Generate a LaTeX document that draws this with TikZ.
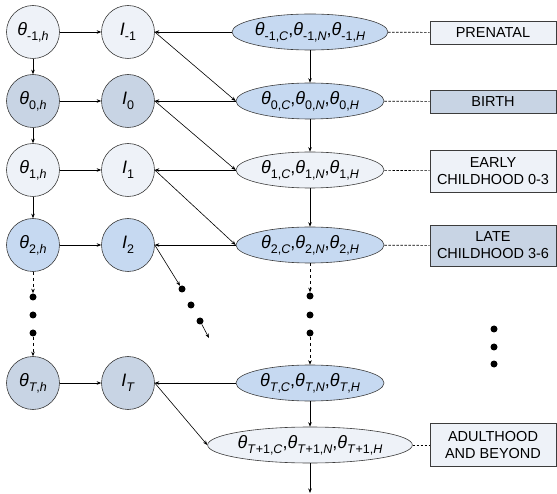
\documentclass[tikz,border=0pt]{standalone}
\usepackage{fontspec}
\setmainfont{Liberation Sans}
\usetikzlibrary{arrows.meta}
\usetikzlibrary{shapes.geometric}
\definecolor{pale}{HTML}{EEF2F8}
\definecolor{sky}{HTML}{C6D9F1}
\definecolor{slate}{HTML}{C8D4E4}
\definecolor{rim}{HTML}{3C3C3C}
\def\subtx#1{\raisebox{-0.28em}{\fontsize{12.5}{13}\selectfont #1}}
\def\thet#1{\textit{θ}\subtx{#1}}
\def\inv#1{\textit{I}\subtx{#1}}

\begin{document}
\begin{tikzpicture}[->,>={Stealth[length=4.5pt,width=3.5pt]},semithick,x=1pt,y=-1pt,
		every node/.style={font=\fontsize{18}{20}\selectfont}]
		\tikzstyle{skill}=[circle,draw=rim,minimum size=53pt,inner sep=0pt]
		\tikzstyle{stage}=[ellipse,draw=rim,minimum width=148pt,minimum height=36pt,inner sep=0pt]
		\tikzstyle{period}=[rectangle,draw=rim,minimum width=126pt,minimum height=23pt,
			align=center,inner sep=1pt,font=\fontsize{14.5}{17}\selectfont]
		\tikzstyle{dot}=[circle,fill=black,minimum size=7pt,inner sep=0pt]
		\tikzstyle{link}=[-,dash pattern=on 2.5pt off 1.5pt]
		
		\useasboundingbox (0,0) rectangle (557,494);
		
		% skills of the household
		\node[skill,fill=pale]  (Hm1) at (33,32)  {\thet{-1,\textit{h}}};
		\node[skill,fill=slate] (H0)  at (33,101) {\thet{0,\textit{h}}};
		\node[skill,fill=pale]  (H1)  at (33,170) {\thet{1,\textit{h}}};
		\node[skill,fill=sky]   (H2)  at (33,245) {\thet{2,\textit{h}}};
		\node[skill,fill=slate] (HT)  at (33,383) {\thet{\textit{T},\textit{h}}};
		
		% investments
		\node[skill,fill=pale]  (Im1) at (128,32)  {\inv{-1}};
		\node[skill,fill=slate] (I0)  at (128,101) {\inv{0}};
		\node[skill,fill=pale]  (I1)  at (128,170) {\inv{1}};
		\node[skill,fill=sky]   (I2)  at (128,245) {\inv{2}};
		\node[skill,fill=slate] (IT)  at (128,383) {\inv{\textit{T}}};
		
		% skills of the child
		\node[stage,fill=sky]  (Em1) at (310,32)  {\thet{-1,\textit{C}},\thet{-1,\textit{N}},\thet{-1,\textit{H}}};
		\node[stage,fill=sky]  (E0)  at (310,101) {\thet{0,\textit{C}},\thet{0,\textit{N}},\thet{0,\textit{H}}};
		\node[stage,fill=pale] (E1)  at (310,170) {\thet{1,\textit{C}},\thet{1,\textit{N}},\thet{1,\textit{H}}};
		\node[stage,fill=sky]  (E2)  at (310,245) {\thet{2,\textit{C}},\thet{2,\textit{N}},\thet{2,\textit{H}}};
		\node[stage,fill=sky]  (ET)  at (310,383) {\thet{\textit{T},\textit{C}},\thet{\textit{T},\textit{N}},\thet{\textit{T},\textit{H}}};
		\node[stage,fill=pale,minimum width=180pt] (ETT) at (310,445)
		{\thet{\textit{T}+1,\textit{C}},\thet{\textit{T}+1,\textit{N}},\thet{\textit{T}+1,\textit{H}}};
		\coordinate (out) at (310,493);
		
		% periods
		\node[period,fill=pale]  (Bm1) at (493,32.5) {PRENATAL};
		\node[period,fill=slate] (B0)  at (493,101.5) {BIRTH};
		\node[period,fill=pale,minimum height=42pt]  (B1)  at (493,171) {EARLY\\CHILDHOOD 0-3};
		\node[period,fill=slate,minimum height=41pt] (B2)  at (493,245.5) {LATE\\CHILDHOOD 3-6};
		\node[period,fill=pale,minimum height=43pt]  (BTT) at (493,445) {ADULTHOOD\\AND BEYOND};
		
		% dots
		\node[dot] (hd1) at (33,297) {};
		\node[dot] (hd2) at (33,315) {};
		\node[dot] (hd3) at (33,333) {};
		\node[dot] (ed1) at (310,296) {};
		\node[dot] (ed2) at (310,315) {};
		\node[dot] (ed3) at (310,333) {};
		\node[dot] (id1) at (182,289) {};
		\node[dot] (id2) at (191,305) {};
		\node[dot] (id3) at (200,321) {};
		\coordinate (iend) at (209,338);
		\node[dot] (rd1) at (494,329) {};
		\node[dot] (rd2) at (494,347) {};
		\node[dot] (rd3) at (494,364) {};
		
		\path
		(Hm1) edge (Im1)
		(H0) edge (I0)
		(H1) edge (I1)
		(H2) edge (I2)
		(HT) edge (IT)
		(Hm1) edge (H0)
		(H0) edge (H1)
		(H1) edge (H2)
		(H2) edge [dashed] (hd1)
		(hd3) edge [dashed] (HT)
		(Em1) edge (Im1)
		(E0) edge (I0)
		(E1) edge (I1)
		(E2) edge (I2)
		(ET) edge (IT)
		(Im1.east) edge (E0.west)
		(I0.east) edge (E1.west)
		(I1.east) edge (E2.west)
		(I2.east) edge (id1)
		(id3) edge (iend)
		(IT.east) edge (ETT.west)
		(Em1) edge (E0)
		(E0) edge (E1)
		(E1) edge (E2)
		(E2) edge [dashed] (ed1)
		(ed3) edge [dashed] (ET)
		(ET) edge (ETT)
		(ETT) edge (out)
		(Em1) edge [link] (Bm1)
		(E0) edge [link] (B0)
		(E1) edge [link] (B1)
		(E2) edge [link] (B2)
		(ETT) edge [link] (BTT);
\end{tikzpicture}
\end{document}
